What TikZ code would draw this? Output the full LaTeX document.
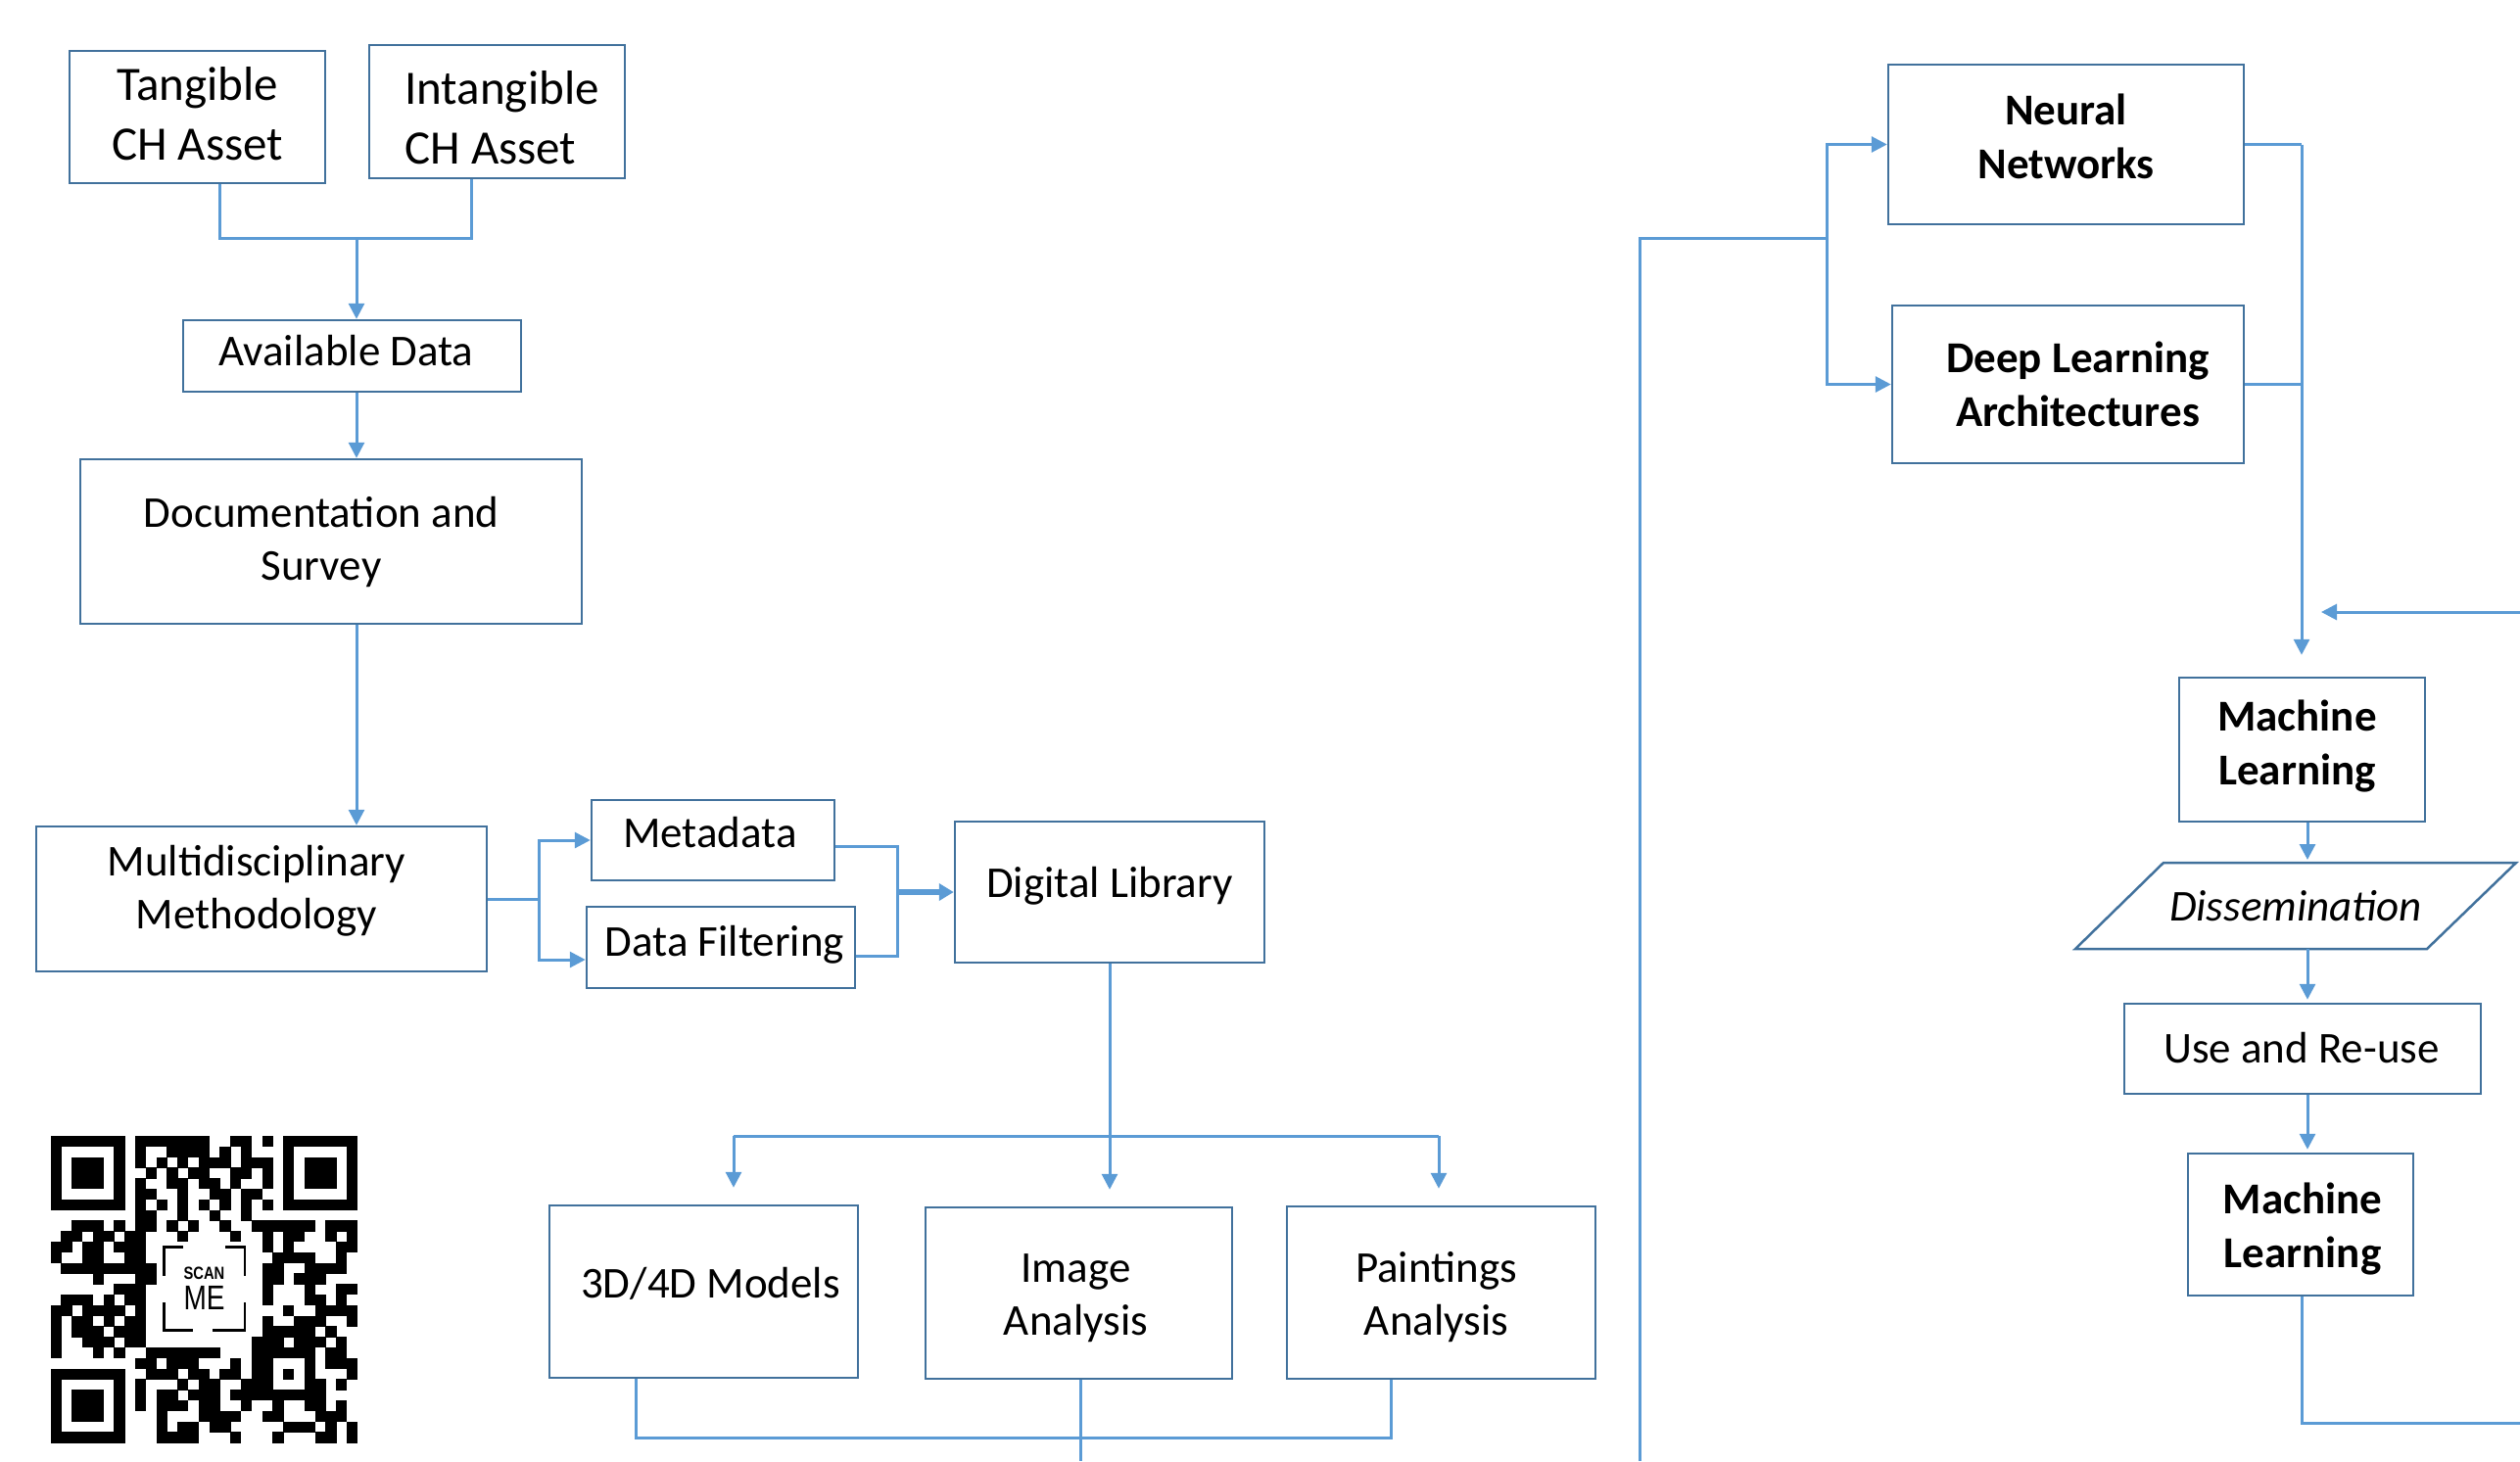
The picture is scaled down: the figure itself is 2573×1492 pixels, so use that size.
\documentclass[tikz,border=0pt]{standalone}
\usepackage{fontspec}
\setmainfont{Carlito}
\newfontfamily\qrfont{Liberation Sans}
\usetikzlibrary{arrows.meta,calc}
\definecolor{boxblue}{HTML}{41719C}
\definecolor{lineblue}{HTML}{5B9BD5}
\newcount\myqrc
\def\myqrx{51.5}\def\myqry{1160}\def\myqrm{10.8}
\def\myqrrow#1#2{\myqrc=0 \def\myqrr{#1}\myqrparse#2\relax}
\def\myqrparse#1{\ifx#1\relax\else\ifnum#1=1 \fill[black] ({\myqrx+\the\myqrc*\myqrm},{\myqry+\myqrr*\myqrm}) rectangle ++(\myqrm+0.4,\myqrm+0.4);\fi\advance\myqrc by 1 \expandafter\myqrparse\fi}
\begin{document}
\begin{tikzpicture}[x=1pt,y=-1pt,
  box/.style={draw=boxblue, line width=2.5pt, fill=white, inner sep=0pt},
  lbl/.style={inner sep=0pt, align=center, text=black, font=\fontsize{45}{54}\selectfont},
  blbl/.style={lbl, font=\fontsize{45}{55}\selectfont\bfseries},
  conn/.style={draw=lineblue, line width=3pt},
  arr/.style={conn, -{Triangle[length=16pt,width=16pt]}},
  thickarr/.style={draw=lineblue, line width=6pt, -{Triangle[length=15pt,width=17pt]}},
]
\fill[white] (0,0) rectangle (2573,1492);
\useasboundingbox (0,0) rectangle (2573,1492);

% ---------- left column ----------
\node[box, minimum width=261pt, minimum height=135pt] (tang) at (201.5,119.5) {};
\node[lbl, font=\fontsize{49}{61}\selectfont] (tangT) at ($(tang)+(0,-3)$) {Tangible\\CH Asset};
\node[box, minimum width=261pt, minimum height=136pt] (intang) at (507.5,114) {};
\node[lbl, align=left, font=\fontsize{49}{61}\selectfont] (intangT) at ($(intang)+(5,6)$) {Intangible\\CH Asset};
\node[box, minimum width=345pt, minimum height=73pt] (avail) at (359.5,363.5) {};
\node[lbl] (availT) at ($(avail)+(-6,-5)$) {Available Data};
\node[box, minimum width=512pt, minimum height=168pt] (doc) at (338,553) {};
\node[lbl] (docT) at ($(doc)+(-10,0)$) {Documentation and\\Survey};
\node[box, minimum width=460pt, minimum height=148pt] (multi) at (267,918) {};
\node[lbl] (multiT) at ($(multi)+(-5,-8)$) {Multidisciplinary\\Methodology};
\node[box, minimum width=248pt, minimum height=82pt] (meta) at (728,858) {};
\node[lbl] (metaT) at ($(meta)+(-3,-8)$) {Metadata};
\node[box, minimum width=274pt, minimum height=83pt] (filt) at (736,967.5) {};
\node[lbl] (filtT) at ($(filt)+(4,-3)$) {Data Filtering};
\node[box, minimum width=316pt, minimum height=144pt] (dlib) at (1133,911) {};
\node[lbl] (dlibT) at ($(dlib)+(0,-6)$) {Digital Library};
\node[box, minimum width=315pt, minimum height=176pt] (m3d) at (718.5,1319) {};
\node[lbl] (m3dT) at ($(m3d)+(7,-8)$) {3D/4D Models};
\node[box, minimum width=313pt, minimum height=175pt] (img) at (1101.5,1320.5) {};
\node[lbl] (imgT) at ($(img)+(-3,5)$) {Image\\Analysis};
\node[box, minimum width=315pt, minimum height=176pt] (paint) at (1471.5,1320) {};
\node[lbl] (paintT) at ($(paint)+(-5,5)$) {Paintings\\Analysis};

% ---------- right column ----------
\node[box, minimum width=363pt, minimum height=163pt] (nn) at (2109.5,147.5) {};
\node[blbl] (nnT) at ($(nn)+(0,-8)$) {Neural\\Networks};
\node[box, minimum width=359pt, minimum height=161pt] (dla) at (2111.5,392.5) {};
\node[blbl] (dlaT) at ($(dla)+(10,0)$) {Deep Learning\\Architectures};
\node[box, minimum width=251pt, minimum height=147pt] (ml1) at (2350.5,765.5) {};
\node[blbl] (ml1T) at ($(ml1)+(-5,-3)$) {Machine\\Learning};
\coordinate (pBL) at (2119,969); \coordinate (pTL) at (2209,881);
\coordinate (pTR) at (2569,881); \coordinate (pBR) at (2478,969);
\draw[boxblue, line width=2.5pt, fill=white, line join=miter] (pBL) -- (pTL) -- (pTR) -- (pBR) -- cycle;
\node[lbl, font=\fontsize{45}{54}\selectfont\itshape] (diss) at (2344,925) {Dissemination};
\node[box, minimum width=364pt, minimum height=92pt] (use) at (2351,1071) {};
\node[lbl] (useT) at ($(use)+(-1,-1)$) {Use and Re-use};
\node[box, minimum width=230pt, minimum height=145pt] (ml2) at (2349,1250.5) {};
\node[blbl] (ml2T) at ($(ml2)+(2,5)$) {Machine\\Learning};

% ---------- connectors, left ----------
\coordinate (j1) at (364,243);
\coordinate (x1) at (364,0);
\draw[conn] ([xshift=22.5pt]tang.south) |- (j1) -| ([xshift=-26.5pt]intang.south);
\draw[arr] (j1) -- (avail.north -| j1);
\draw[arr] (avail.south -| x1) -- (doc.north -| x1);
\draw[arr] (doc.south -| x1) -- (multi.north -| x1);

\coordinate (s1) at (550,918);
\draw[conn] (multi.east |- s1) -- (s1);
\draw[arr] (s1) |- (meta.west);
\draw[arr] (s1) |- ([yshift=-12.5pt]filt.west);

\coordinate (m1) at (916,864);
\coordinate (m2) at (916,976);
\draw[conn] (meta.east |- m1) -- (m1) -- (m2) -- (filt.east |- m2);
\draw[thickarr] (m1 |- dlib.west) -- (dlib.west);

\coordinate (b1) at (749,1160);
\coordinate (b2) at (1469,1160);
\draw[conn] (b1) -- (b2);
\draw[arr, shorten >=17pt] (dlib.south) -- (img.north -| dlib.south);
\draw[arr, shorten >=17pt] (b1) -- (m3d.north -| b1);
\draw[arr, shorten >=17pt] (b2) -- (paint.north -| b2);

\coordinate (b3) at (649,1468);
\coordinate (b4) at (1420,1468);
\coordinate (e1) at (1103,1492);
\draw[conn] (m3d.south -| b3) -- (b3) -- (b4) -- (paint.south -| b4);
\draw[conn] (img.south -| e1) -- (e1);

% ---------- connectors, right ----------
\coordinate (L0) at (1674,1492);
\coordinate (L1) at (1674,243);
\coordinate (L2) at (1865,243);
\draw[conn] (L0) -- (L1) -- (L2);
\draw[arr] (L2) |- (nn.west);
\draw[arr] (L2) |- (dla.west);

\coordinate (R) at (2350,0);
\draw[conn] (nn.east) -- (nn.east -| R);
\draw[conn] (dla.east) -- (dla.east -| R);
\draw[arr, shorten >=22pt] (nn.east -| R) -- (ml1.north -| R);

\coordinate (E2) at (2573,625);
\coordinate (E3) at (2370,625);
\draw[arr] (E2) -- (E3);

\coordinate (D) at (2356,0);
\draw[arr, shorten >=3pt] (ml1.south -| D) -- (pTL -| D);
\draw[arr, shorten >=3pt] (pBL -| D) -- (use.north -| D);
\draw[arr, shorten >=3pt] (use.south -| D) -- (ml2.north -| D);

\coordinate (E4) at (2573,1453);
\draw[conn] (ml2.south -| R) |- (E4);

% ---------- QR code ----------
\myqrrow{0}{11111110111111100110101111111}
\myqrrow{1}{10000010100111101010001000001}
\myqrrow{2}{10111010101010111011101011101}
\myqrrow{3}{10111010010101100110101011101}
\myqrrow{4}{10111010100110110100101011101}
\myqrrow{5}{10000010110010011011001000001}
\myqrrow{6}{11111110101010101010101111111}
\myqrrow{7}{00000000110010010010000000000}
\myqrrow{8}{00111010110101001001111110111}
\myqrrow{9}{01101101100010000100101100101}
\myqrrow{10}{11011011100000000000101000011}
\myqrrow{11}{10011001100000000000011110010}
\myqrrow{12}{01111111110000000000110011110}
\myqrrow{13}{00001000110000000000110111000}
\myqrrow{14}{00000011100000000000100010011}
\myqrrow{15}{01110101100000000000100011010}
\myqrrow{16}{11011110100000000000001001111}
\myqrrow{17}{10110101100000000000100111001}
\myqrrow{18}{10111011100000000000111110100}
\myqrrow{19}{10011101100000000001110111010}
\myqrrow{20}{10001010011111110001111110110}
\myqrrow{21}{00000000110111000101100010111}
\myqrrow{22}{11111110011101101101101010001}
\myqrrow{23}{10000010100010110011100011010}
\myqrrow{24}{10111010101101110111111111000}
\myqrrow{25}{10111010101110110010010011010}
\myqrrow{26}{10111010001000111100110001110}
\myqrrow{27}{10000010001011011000001110101}
\myqrrow{28}{11111110001111000100010001101}
\draw[black, line width=2.7pt] (186.7,1273.3) -- (167.3,1273.3) -- (167.3,1303);
\draw[black, line width=2.7pt] (230,1273.3) -- (250,1273.3) -- (250,1303);
\draw[black, line width=2.7pt] (167.3,1330) -- (167.3,1358.3) -- (196.7,1358.3);
\draw[black, line width=2.7pt] (250,1330) -- (250,1358.3) -- (216.7,1358.3);
\node[inner sep=0pt, font=\qrfont\bfseries\fontsize{18}{18}\selectfont] (scan) at (208.5,1300) {\scalebox{0.82}[1]{SCAN}};
\node[inner sep=0pt, font=\qrfont\fontsize{35}{35}\selectfont] (me) at (208.5,1325) {\scalebox{0.8}[1]{ME}};
\end{tikzpicture}
\end{document}
